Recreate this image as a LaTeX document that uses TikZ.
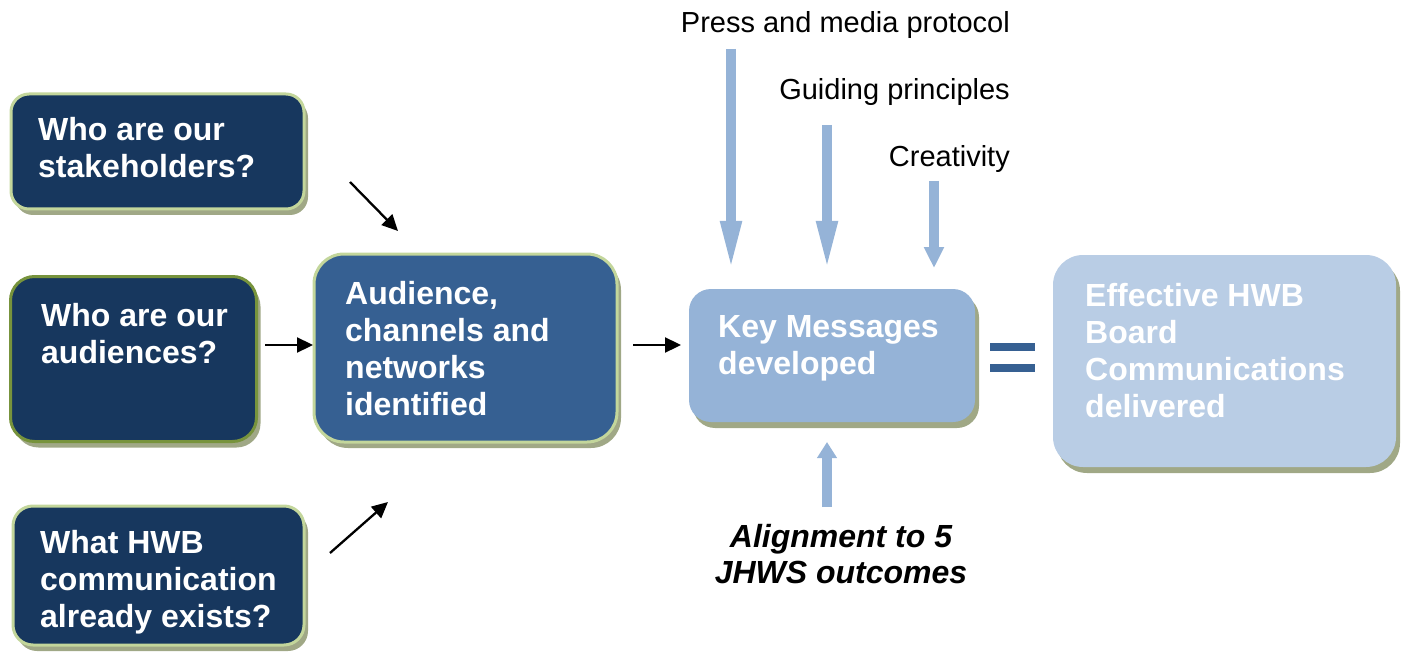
\documentclass[tikz,border=0pt]{standalone}
\usepackage{fontspec}
\setmainfont{Liberation Sans}
\usetikzlibrary{arrows.meta,shadows,calc}
\definecolor{navy}{HTML}{17375E}
\definecolor{midblue}{HTML}{366092}
\definecolor{keyblue}{HTML}{95B3D7}
\definecolor{paleblue}{HTML}{B9CDE5}
\definecolor{bordergreen}{HTML}{C3D69B}
\definecolor{darkgreen}{HTML}{77933C}
\definecolor{shadowc}{HTML}{A0A886}
\tikzset{
  box/.style={inner sep=0pt, draw=bordergreen, line width=3pt,
    drop shadow={shadow xshift=4pt, shadow yshift=-6pt, fill=shadowc, opacity=1}},
  plainbox/.style={inner sep=0pt, draw=none,
    drop shadow={shadow xshift=4pt, shadow yshift=-6pt, fill=shadowc, opacity=1}},
  boxtxt/.style={inner sep=0pt, anchor=base west, text=white, align=left,
    font=\fontsize{32}{37}\selectfont\bfseries},
  toptxt/.style={inner sep=0pt, anchor=base east, font=\fontsize{29}{35}\selectfont},
  blackarrow/.style={line width=2.3pt, -{Triangle[length=16pt,width=15pt]}},
  bluearrow/.style={draw=keyblue, line width=10pt, -{Triangle[length=51pt,width=19pt]}},
}
\begin{document}
\begin{tikzpicture}[x=1pt,y=-1pt]
\useasboundingbox (0,0) rectangle (1405,655);
% boxes
\node[box, fill=navy, rounded corners=18pt, minimum width=293pt, minimum height=115pt] (stake) at (157.5,151.5) {};
\node[box, draw=darkgreen, fill=navy, rounded corners=24pt, minimum width=246pt, minimum height=165pt] (aud) at (133.5,359) {};
\node[box, fill=navy, rounded corners=20pt, minimum width=291pt, minimum height=139pt] (exist) at (158.5,575.5) {};
\node[box, fill=midblue, rounded corners=30pt, minimum width=303pt, minimum height=188pt] (chan) at (465.5,348) {};
\node[plainbox, fill=keyblue, rounded corners=22pt, minimum width=286pt, minimum height=133pt] (key) at (832,355.5) {};
\node[plainbox, fill=paleblue, rounded corners=30pt, minimum width=343pt, minimum height=212pt] (eff) at (1224.5,361) {};
% box texts (anchored at the baseline of the last line)
\node[boxtxt] (stakeT) at (38,178) {Who are our\\stakeholders?};
\node[boxtxt] (audT) at (41,363) {Who are our\\audiences?};
\node[boxtxt] (existT) at (40,627) {What HWB\\communication\\already exists?};
\node[boxtxt] (chanT) at (345,415) {Audience,\\channels and\\networks\\identified};
\node[boxtxt] (keyT) at (718,374) {Key Messages\\developed};
\node[boxtxt] (effT) at (1085,417) {Effective HWB\\Board\\Communications\\delivered};
% equals sign
\fill[midblue] (990,343) rectangle (1035,351);
\fill[midblue] (990,364) rectangle (1035,372);
% top labels
\node[toptxt] (press) at (1010,33) {Press and media protocol};
\node[toptxt] (guide) at (1010,100) {Guiding principles};
\node[toptxt] (creat) at (1010,167) {Creativity};
\node[inner sep=0pt, anchor=base, align=center, font=\fontsize{32}{36}\selectfont\bfseries\itshape] (align) at (841,583) {Alignment to 5\\JHWS outcomes};
% coordinates for free arrow ends
\coordinate (a1s) at (350,182); \coordinate (a1e) at (398,231);
\coordinate (a2s) at (265,345); \coordinate (a2e) at (313,345);
\coordinate (a3s) at (330,553); \coordinate (a3e) at (388,502);
\coordinate (a4s) at (633,345); \coordinate (a4e) at (681,345);
\coordinate (b1s) at (731,49); \coordinate (b1e) at (731,272);
\coordinate (b2s) at (827,125); \coordinate (b2e) at (827,272);
\coordinate (b3s) at (934,181); \coordinate (b3e) at (934,268);
\coordinate (b4s) at (827,507); \coordinate (b4e) at (827,442);
% black arrows
\draw[blackarrow] (a1s) -- (a1e);
\draw[blackarrow] (a2s) -- (a2e);
\draw[blackarrow] (a3s) -- (a3e);
\draw[blackarrow] (a4s) -- (a4e);
% blue arrows
\draw[bluearrow] (b1s) -- (b1e);
\draw[bluearrow] (b2s) -- (b2e);
\draw[bluearrow, -{Triangle[length=21pt,width=19pt]}] (b3s) -- (b3e);
\draw[bluearrow, -{Triangle[length=16pt,width=19pt]}] (b4s) -- (b4e);
\end{tikzpicture}
\end{document}
